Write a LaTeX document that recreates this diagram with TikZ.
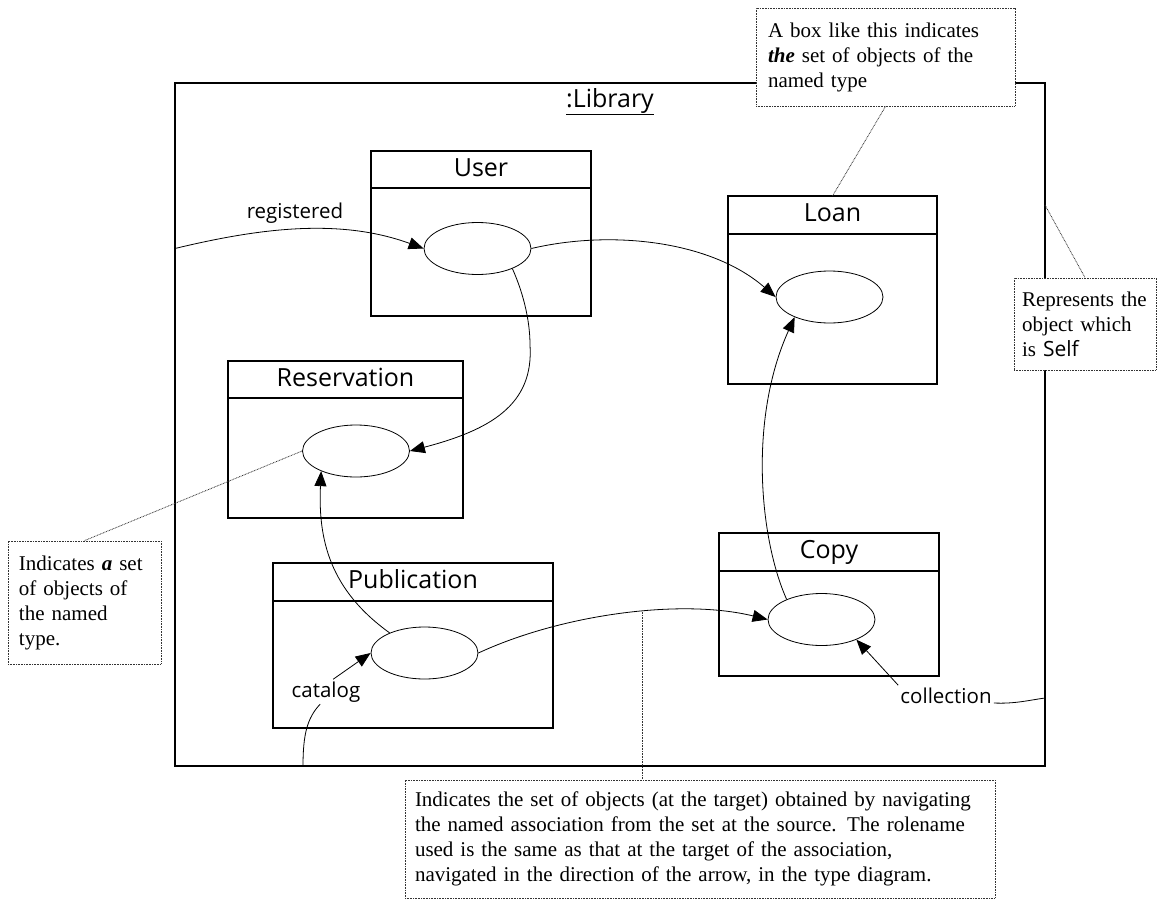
\documentclass[tikz,border=0pt]{standalone}
\usepackage{fontspec}
\setmainfont{Liberation Serif}
\newfontfamily\handfont{Open Sans}
\usetikzlibrary{shapes.geometric, arrows.meta}
\usetikzlibrary{positioning}
\tikzstyle{libframe} = [draw=black, line width=2.5pt, inner sep=0pt, outer sep=0pt]
\tikzstyle{classhead} = [draw=black, line width=2.5pt, inner sep=0pt, outer sep=0pt, text height=18pt, text depth=5pt, font=\handfont\fontsize{25}{30}\selectfont]
\tikzstyle{classbody} = [draw=black, line width=2.5pt, inner sep=0pt, outer sep=0pt]
\tikzstyle{setoval} = [ellipse, draw=black, line width=0.8pt, minimum width=107pt, minimum height=52pt, inner sep=0pt]
\tikzstyle{role} = [font=\handfont\fontsize{20.5}{24}\selectfont, inner sep=2pt]
\tikzstyle{note} = [draw=black!80, line width=0.8pt, dash pattern=on 0.8pt off 0.8pt, fill=white, font=\fontsize{21}{25}\selectfont, align=left, inner sep=0pt]
\tikzstyle{pointer} = [draw=black!80, line width=0.8pt, dash pattern=on 0.8pt off 0.8pt]
\tikzstyle{arrow} = [line width=0.8pt, -{Triangle[length=15pt, width=12pt]}]

\begin{document}
\begin{tikzpicture}[x=1pt, y=-1pt]
\useasboundingbox (0,0) rectangle (1157,902);

\node (library) [libframe, minimum width=870pt, minimum height=683pt] at (610,424.5) {};
\node (libname) [anchor=base, font=\handfont\fontsize{25}{30}\selectfont] at (610,107) {\underline{:Library}};

% the classes
\node (userhead) [classhead, minimum width=220pt, minimum height=37pt] at (481,169.5) {User};
\node (userbody) [classbody, below=0pt of userhead, minimum width=220pt, minimum height=128pt] {};
\node (loanhead) [classhead, minimum width=209pt, minimum height=38pt] at (832.5,215) {Loan};
\node (loanbody) [classbody, below=0pt of loanhead, minimum width=209pt, minimum height=150pt] {};
\node (reshead) [classhead, minimum width=235pt, minimum height=37pt] at (345.5,379.5) {Reservation};
\node (resbody) [classbody, below=0pt of reshead, minimum width=235pt, minimum height=120pt] {};
\node (pubhead) [classhead, minimum width=280pt, minimum height=38pt] at (413,582) {Publication};
\node (pubbody) [classbody, below=0pt of pubhead, minimum width=280pt, minimum height=127pt] {};
\node (copyhead) [classhead, minimum width=220pt, minimum height=38pt] at (829,552) {Copy};
\node (copybody) [classbody, below=0pt of copyhead, minimum width=220pt, minimum height=105pt] {};

% the sets
\node (userset) [setoval] at (477.5,248.5) {};
\node (loanset) [setoval] at (829.5,297) {};
\node (resset) [setoval] at (356,451) {};
\node (pubset) [setoval] at (424.5,653) {};
\node (copyset) [setoval] at (821.5,619.5) {};

% role names
\node (registered) [role, anchor=base] at (295,218) {registered};
\node (catalog) [role, anchor=base] at (326,697) {catalog};
\node (collection) [role, anchor=base] at (946,703) {collection};

\coordinate (regfoot) at (175,248.5);
\coordinate (catfoot) at (303,766);
\coordinate (colfoot) at (1045,698);
\coordinate (selfpt) at (1045,205);

\draw [arrow] (regfoot) .. controls (260,228) and (340,218) .. (userset.west);
\draw [arrow] (userset.east) .. controls (610,230) and (710,240) .. (loanset.west);
\draw [arrow] (userset.-30) .. controls (522,290) and (530,318) .. (530,345) .. controls (534,405) and (490,430) .. (resset.east);
\draw [arrow] (pubset.150) .. controls (330,590) and (318,540) .. (resset.-150);
\draw [arrow] (pubset.east) .. controls (560,615) and (680,598) .. coordinate[pos=0.57] (navpt) (copyset.west);
\draw [arrow] (copyset.150) .. controls (760,540) and (748,420) .. (loanset.-150);
\draw [arrow] (catalog.60) -- (pubset.west);
\draw [arrow] (collection.north west) -- (copyset.-30);
\draw [line width=0.8pt] (catfoot) .. controls (303,735) and (307,718) .. (catalog.-115);
\draw [line width=0.8pt] (collection.base east) .. controls (1015,704) and (1030,700) .. (colfoot);

% notes
\node (thenote) [note, minimum width=259pt, minimum height=98pt, text width=235pt] at (885.5,57) {A box like this indicates\\ \textbf{\textit{the}} set of objects of the\\ named type};
\node (selfnote) [note, minimum width=142pt, minimum height=92pt, text width=126pt] at (1085,324) {Represents the\\ object which\\ is {\handfont Self}};
\node (anote) [note, minimum width=153pt, minimum height=123pt, text width=131pt] at (84.5,602.5) {Indicates \textbf{\textit{a}} set\\ of objects of\\ the named\\ type.};
\node (navnote) [note, minimum width=590pt, minimum height=118pt, text width=570pt] at (700,839) {Indicates the set of objects (at the target) obtained by navigating\\ the named association from the set at the source. The rolename\\ used is the same as that at the target of the association,\\ navigated in the direction of the arrow, in the type diagram.};

\draw [pointer] (loanhead.north) -- (thenote.south);
\draw [pointer] (selfpt) -- (selfnote.north);
\draw [pointer] (resset.west) -- (anote.north);
\draw [pointer] (navpt) -- (navpt |- navnote.north);

\end{tikzpicture}
\end{document}
